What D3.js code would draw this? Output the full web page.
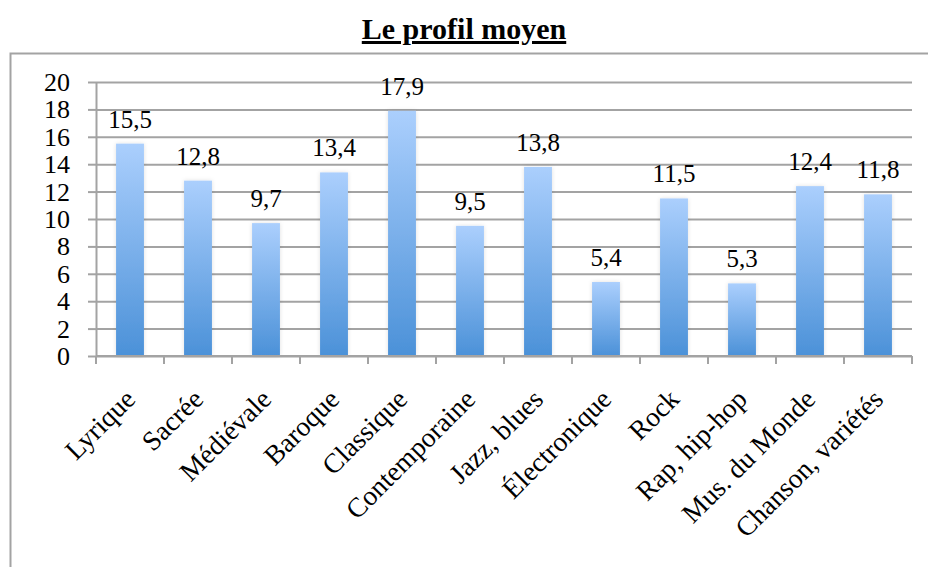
<!DOCTYPE html>
<html>
<head>
<meta charset="utf-8">
<script src="https://cdn.jsdelivr.net/npm/d3@7"></script>
<style>
  html, body { margin: 0; padding: 0; background: #fff; }
  svg { display: block; }
</style>
</head>
<body>
<div id="chart"></div>
<script>
const categories = ["Lyrique", "Sacrée", "Médiévale", "Baroque", "Classique", "Contemporaine",
  "Jazz, blues", "Électronique", "Rock", "Rap, hip-hop", "Mus. du Monde", "Chanson, variétés"];
const values = [15.5, 12.8, 9.7, 13.4, 17.9, 9.5, 13.8, 5.4, 11.5, 5.3, 12.4, 11.8];
const yTicks = [0, 2, 4, 6, 8, 10, 12, 14, 16, 18, 20];
const title = "Le profil moyen";

const width = 928, height = 567;
const margin = {top: 82, right: 16, bottom: 211, left: 96};
const font = "'Liberation Serif', 'Times New Roman', serif";
const grey = "#a3a3a3";

const svg = d3.select("#chart").append("svg")
    .attr("width", width)
    .attr("height", height)
    .attr("font-family", font);

const defs = svg.append("defs");
const grad = defs.append("linearGradient")
    .attr("id", "barGrad")
    .attr("x1", 0).attr("y1", 0).attr("x2", 0).attr("y2", 1);
grad.append("stop").attr("offset", "0%").attr("stop-color", "#abcffd");
grad.append("stop").attr("offset", "100%").attr("stop-color", "#4b91d8");

const shadow = defs.append("filter").attr("id", "shadow")
    .attr("x", "-30%").attr("y", "-10%").attr("width", "160%").attr("height", "120%");
shadow.append("feDropShadow")
    .attr("dx", 0).attr("dy", 0).attr("stdDeviation", 2)
    .attr("flood-color", "#000").attr("flood-opacity", 0.12);

// outer frame (runs off the page to the right and bottom)
svg.append("rect")
    .attr("x", 10.5).attr("y", 53.5)
    .attr("width", 940).attr("height", 540)
    .attr("fill", "none")
    .attr("stroke", grey)
    .attr("stroke-width", 2);

// title
svg.append("text")
    .attr("x", 464)
    .attr("y", 39)
    .attr("text-anchor", "middle")
    .attr("font-size", 30)
    .attr("font-weight", "bold")
    .attr("text-decoration", "underline")
    .text(title);

const x = d3.scaleBand()
    .domain(categories)
    .range([margin.left, width - margin.right])
    .paddingInner(0.59)
    .paddingOuter(0.295);

const y = d3.scaleLinear()
    .domain([0, 20])
    .range([height - margin.bottom, margin.top]);

// gridlines + y axis
const yAxis = svg.append("g")
    .attr("transform", `translate(${margin.left},0)`)
    .call(d3.axisLeft(y).tickValues(yTicks).tickSize(8).tickPadding(18)
      .tickSizeOuter(0));
yAxis.attr("font-size", null).attr("font-family", null);
yAxis.select(".domain").attr("stroke", grey).attr("stroke-width", 2);
yAxis.selectAll(".tick line").clone()
    .attr("x2", width - margin.right - margin.left);
yAxis.selectAll(".tick line").attr("stroke", grey).attr("stroke-width", 2);
yAxis.selectAll(".tick text")
    .attr("font-size", 26)
    .attr("fill", "#000")
    .attr("dy", "0.33em");

// bars
svg.append("g")
    .selectAll("rect")
    .data(values)
    .join("rect")
    .attr("x", (d, i) => x(categories[i]))
    .attr("y", d => y(d))
    .attr("width", x.bandwidth())
    .attr("height", d => y(0) - y(d))
    .attr("fill", "url(#barGrad)")
    .attr("filter", "url(#shadow)");

// value labels
svg.append("g")
    .selectAll("text")
    .data(values)
    .join("text")
    .attr("x", (d, i) => x(categories[i]) + x.bandwidth() / 2)
    .attr("y", d => y(d) - 16)
    .attr("text-anchor", "middle")
    .attr("font-size", 25)
    .text(d => d3.format(".1f")(d).replace(".", ","));

// x axis: ticks at category boundaries
const bounds = d3.range(categories.length + 1).map(i => margin.left + i * x.step());
const xg = svg.append("g");
xg.append("line")
    .attr("x1", margin.left).attr("x2", width - margin.right)
    .attr("y1", y(0)).attr("y2", y(0))
    .attr("stroke", grey).attr("stroke-width", 2);
xg.selectAll("line.tk")
    .data(bounds)
    .join("line")
    .attr("class", "tk")
    .attr("x1", d => d).attr("x2", d => d)
    .attr("y1", y(0)).attr("y2", y(0) + 8)
    .attr("stroke", grey).attr("stroke-width", 2);

xg.selectAll("text")
    .data(categories)
    .join("text")
    .attr("transform", d => `translate(${x(d) + x.bandwidth() / 2},${y(0) + 38}) rotate(-45)`)
    .attr("text-anchor", "end")
    .attr("dy", "0.35em")
    .attr("font-size", 27.5)
    .text(d => d);
</script>
</body>
</html>
